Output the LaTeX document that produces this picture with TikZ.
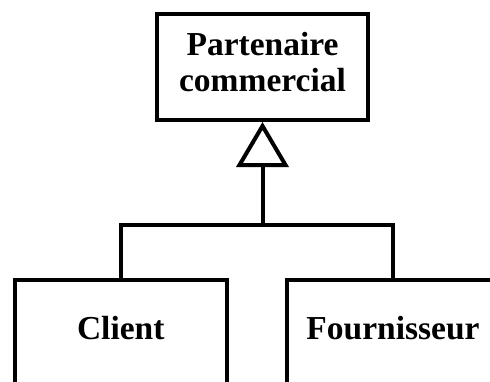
\documentclass[tikz,border=0pt]{standalone}
\usepackage{fontspec}
\setmainfont{Liberation Serif}
\usetikzlibrary{arrows.meta}
\begin{document}
\begin{tikzpicture}[x=1pt,y=-1pt,
  box/.style={draw, line width=4pt, rectangle, minimum width=211.5pt, inner sep=0pt},
  lbl/.style={font=\fontsize{33.5}{36}\selectfont\bfseries, align=center, inner sep=0pt},
  conn/.style={line width=4pt},
  gen/.style={conn, -{Triangle[open, length=45pt, width=52pt]}}]
\useasboundingbox (0,0) rectangle (490,381);
\begin{scope}
\clip (0,0) rectangle (490,381);
\node[box, minimum height=106pt] (pc) at (262.5,67) {};
\node[lbl] (pct) at (262.5,62.5) {Partenaire\\commercial};
\node[box, minimum height=200pt] (cl) at (120.75,380) {};
\node[box, minimum height=200pt] (fo) at (393,380) {};
\node[lbl] (clt) at (120.75,328) {Client};
\node[lbl] (fot) at (393,328) {Fournisseur};
\coordinate (j) at (262.5,224.5);
\draw[conn] (cl.north) |- (j) -| (fo.north);
\draw[gen] (j) -- (pc.south);
\end{scope}
\end{tikzpicture}
\end{document}
